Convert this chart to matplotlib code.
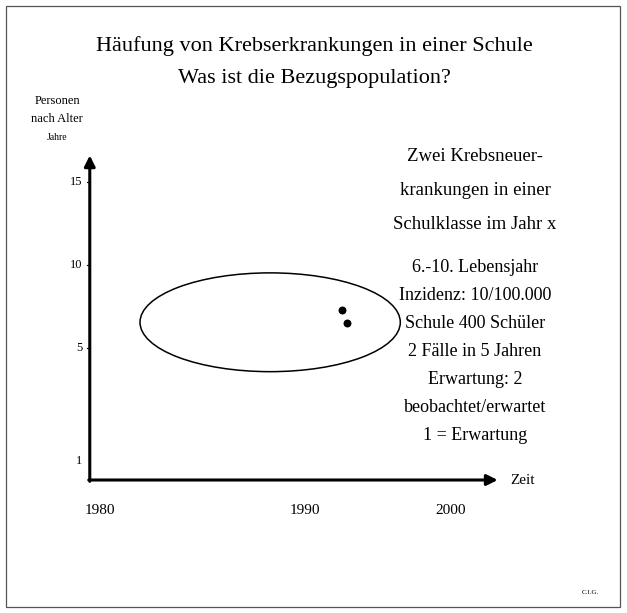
import matplotlib
matplotlib.use('Agg')
import matplotlib.pyplot as plt
from matplotlib.patches import Ellipse, Rectangle

plt.rcParams['font.family'] = ['Liberation Serif', 'DejaVu Serif']

# Data (schematic slide: x = calendar year, y = age in years)
title_lines = ['Häufung von Krebserkrankungen in einer Schule',
               'Was ist die Bezugspopulation?']
ylabel_lines = ['Personen', 'nach Alter']
ylabel_unit = 'Jahre'
xlabel = 'Zeit'

year_labels = ['1980', '1990', '2000']
year_pos = [1980, 1990, 1997.1]
age_labels = ['1', '5', '10', '15']
age_pos = [-1.8, 5, 10, 15]

# school population (age 6-10) as an ellipse in year/age space
pop_center = (1988.3, 6.55)
pop_width = 12.7   # years
pop_height = 5.95  # age span

case_years = [1991.8, 1992.05]
case_ages = [7.3, 6.5]

info_head = ['Zwei Krebsneuer-', 'krankungen in einer', 'Schulklasse im Jahr x']
info_body = ['6.-10. Lebensjahr', 'Inzidenz: 10/100.000', 'Schule 400 Schüler',
             '2 Fälle in 5 Jahren', 'Erwartung: 2', 'beobachtet/erwartet',
             '1 = Erwartung']

axis_x0, axis_x1 = 1979.5, 1999.4
axis_y0, axis_y1 = -2.95, 16.6

W, H = 627, 613
fig = plt.figure(figsize=(W / 100, H / 100), dpi=100)
ax = fig.add_axes([0, 0, 1, 1])
ax.set_xlim(1975.12, 2005.71)
ax.set_ylim(-10.96, 25.96)
ax.axis('off')

def px(x, y):
    # slide pixel position -> figure fraction
    return x / W, 1 - y / H

# frame of the scanned slide
fig.patches.append(Rectangle(px(6, 607), 614 / W, 601 / H, transform=fig.transFigure,
                             fill=False, lw=0.9, ec='#555555'))

# title
for i, line in enumerate(title_lines):
    fig.text(*px(314, 46 + i * 33), line, ha='center', va='center', fontsize=16)

# axes arrows
arrow = dict(arrowstyle='-|>', lw=2.2, color='black', mutation_scale=16,
             shrinkA=0, shrinkB=0)
ax.annotate('', xy=(axis_x0, axis_y1), xytext=(axis_x0, axis_y0 - 0.08), arrowprops=arrow)
ax.annotate('', xy=(axis_x1, axis_y0), xytext=(axis_x0 - 0.05, axis_y0), arrowprops=arrow)

for lab, a in zip(age_labels, age_pos):
    ax.text(axis_x0 - 0.35, a, lab, ha='right', va='center', fontsize=9)
for a in age_pos[1:]:
    ax.plot([axis_x0 - 0.12, axis_x0], [a, a], color='black', lw=0.8)
for lab, yr in zip(year_labels, year_pos):
    ax.text(yr, axis_y0 - 1.85, lab, ha='center', va='center', fontsize=11)

ax.text(axis_x1 + 0.6, axis_y0, xlabel, ha='left', va='center', fontsize=11)

for i, line in enumerate(ylabel_lines):
    fig.text(*px(57, 101 + i * 18), line, ha='center', va='center', fontsize=9)
fig.text(*px(57, 137), ylabel_unit, ha='center', va='center', fontsize=7)

# population ellipse and the two cases
ax.add_patch(Ellipse(pop_center, pop_width, pop_height, fill=False, lw=1.1, ec='black'))
ax.scatter(case_years, case_ages, s=22, color='black', zorder=3)

# info text
for i, line in enumerate(info_head):
    fig.text(*px(475, 157 + i * 33.5), line, ha='center', va='center', fontsize=13.5)
for i, line in enumerate(info_body):
    fig.text(*px(475, 267 + i * 28), line, ha='center', va='center', fontsize=13)

fig.text(*px(590, 593), 'C.I.G.', ha='center', va='center', fontsize=5)

fig.savefig('out.png', dpi=100)
